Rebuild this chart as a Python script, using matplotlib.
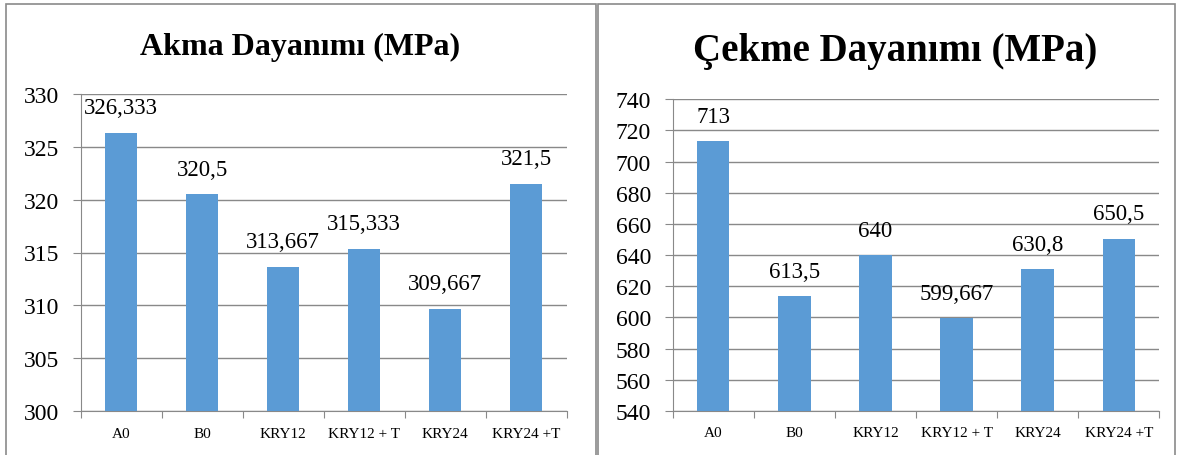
import matplotlib
matplotlib.use("Agg")
import matplotlib.pyplot as plt
import matplotlib.patches as patches
import numpy as np

plt.rcParams['font.family'] = ['Liberation Serif', 'DejaVu Serif']

categories = ["A0", "B0", "KRY12", "KRY12 + T", "KRY24", "KRY24 +T"]
akma = [326.333, 320.5, 313.667, 315.333, 309.667, 321.5]
cekme = [713, 613.5, 640, 599.667, 630.8, 650.5]
akma_labels = ["326,333", "320,5", "313,667", "315,333", "309,667", "321,5"]
cekme_labels = ["713", "613,5", "640", "599,667", "630,8", "650,5"]

BAR = "#5B9BD5"
GRID = "#898989"

fig = plt.figure(figsize=(11.79, 4.56), dpi=100)

# panel borders
fig.patches.append(patches.Rectangle((6 / 1179, -0.05), 590 / 1179, 1.05 - 4.5 / 456,
                                     transform=fig.transFigure, fill=False,
                                     edgecolor="#8a8a8a", lw=1.2))
fig.patches.append(patches.Rectangle((598 / 1179, -0.05), 577 / 1179, 1.05 - 4.5 / 456,
                                     transform=fig.transFigure, fill=False,
                                     edgecolor="#8a8a8a", lw=1.2))


def draw(ax, values, labels, ylim, step):
    x = np.arange(len(categories))
    ax.bar(x, values, width=0.4, color=BAR, zorder=3)
    ax.set_xlim(-0.5, len(categories) - 0.5)
    ax.set_ylim(*ylim)
    ax.set_yticks(np.arange(ylim[0], ylim[1] + step / 2, step))
    ax.yaxis.grid(True, color=GRID, lw=1)
    ax.set_axisbelow(True)
    for s in ["top", "right"]:
        ax.spines[s].set_visible(False)
    ax.spines["left"].set_color(GRID)
    ax.spines["bottom"].set_color(GRID)
    ax.tick_params(axis="y", colors=GRID, length=5.5, pad=10, labelsize=17, labelcolor="black")
    # boundary ticks on x, labels at centres
    ax.set_xticks(np.arange(-0.5, len(categories), 1.0))
    ax.set_xticklabels([])
    ax.tick_params(axis="x", which="major", colors=GRID, length=5, direction="out")
    ax.set_xticks(x, minor=True)
    ax.set_xticklabels(categories, minor=True)
    ax.tick_params(axis="x", which="minor", length=0, pad=11, labelsize=11, labelcolor="black")
    for xi, v, t in zip(x, values, labels):
        ax.annotate(t, (xi, v), xytext=(0, 18), textcoords="offset points",
                    ha="center", va="center", fontsize=16.5)


ax1 = fig.add_axes([80.7 / 1179, 1 - 412.3 / 456, 486 / 1179, 317.6 / 456])
draw(ax1, akma, akma_labels, (300, 330), 5)
ax2 = fig.add_axes([672.7 / 1179, 1 - 412 / 456, 486.6 / 1179, 311.7 / 456])
draw(ax2, cekme, cekme_labels, (540, 740), 20)

fig.text(300.5 / 1179, 1 - 47 / 456, "Akma Dayanımı (MPa)", ha="center", va="center",
         fontsize=23, fontweight="bold")
fig.text(895.5 / 1179, 1 - 51 / 456, "Çekme Dayanımı (MPa)", ha="center", va="center",
         fontsize=28, fontweight="bold")

fig.savefig("out.png", dpi=100)
